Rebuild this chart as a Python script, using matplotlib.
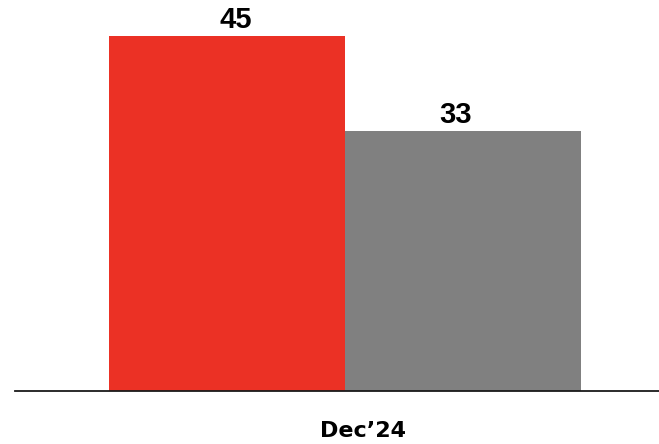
import matplotlib
matplotlib.use("Agg")
import matplotlib.pyplot as plt
import matplotlib.transforms as mtransforms

# Data
period = "Dec\u201924"
series_names = ["Series A", "Series B"]
values = [45, 33]
colors = ["#EB3125", "#808080"]

W, H, DPI = 659, 444, 100
fig = plt.figure(figsize=(W / DPI, H / DPI), dpi=DPI)

# axes spans from the left edge of the baseline to the right edge of the figure
left_px, right_px = 15, 659
bottom_px, top_px = 390.5, 36
ax = fig.add_axes([left_px / W, 1 - bottom_px / H,
                   (right_px - left_px) / W, (bottom_px - top_px) / H])

bar_w = 1.0
xs = [-0.5, 0.5]
bars = ax.bar(xs, values, width=bar_w, color=colors, linewidth=0)

# horizontal extent in bar-width units (bar width = 236 px, group center at 345 px)
unit = 236.0
center_px = 345.0
ax.set_xlim((left_px - center_px) / unit, (right_px - center_px) / unit)
ax.set_ylim(0, max(values))

# value labels
label_shift = [9, -7.5]
for x, v, dx in zip(xs, values, label_shift):
    ax.annotate(f"{v}", xy=(x, v), xytext=(dx, 2), textcoords="offset pixels",
                ha="center", va="bottom", fontsize=21, fontweight="bold",
                family="Liberation Sans", color="black", clip_on=False,
                annotation_clip=False)

# category label under the group
ax.set_xticks([0])
ax.set_xticklabels([period])
ax.tick_params(axis="x", length=0, pad=22)
offset = mtransforms.ScaledTranslation(18 / DPI, 0, fig.dpi_scale_trans)
for lbl in ax.get_xticklabels():
    lbl.set_fontsize(16)
    lbl.set_fontweight("heavy")
    lbl.set_family("DejaVu Sans")
    lbl.set_color("black")
    lbl.set_transform(lbl.get_transform() + offset)

ax.set_yticks([])
for side in ["top", "right", "left"]:
    ax.spines[side].set_visible(False)
ax.spines["bottom"].set_color("#1a1a1a")
ax.spines["bottom"].set_linewidth(1.3)

fig.savefig("out.png", dpi=DPI)
